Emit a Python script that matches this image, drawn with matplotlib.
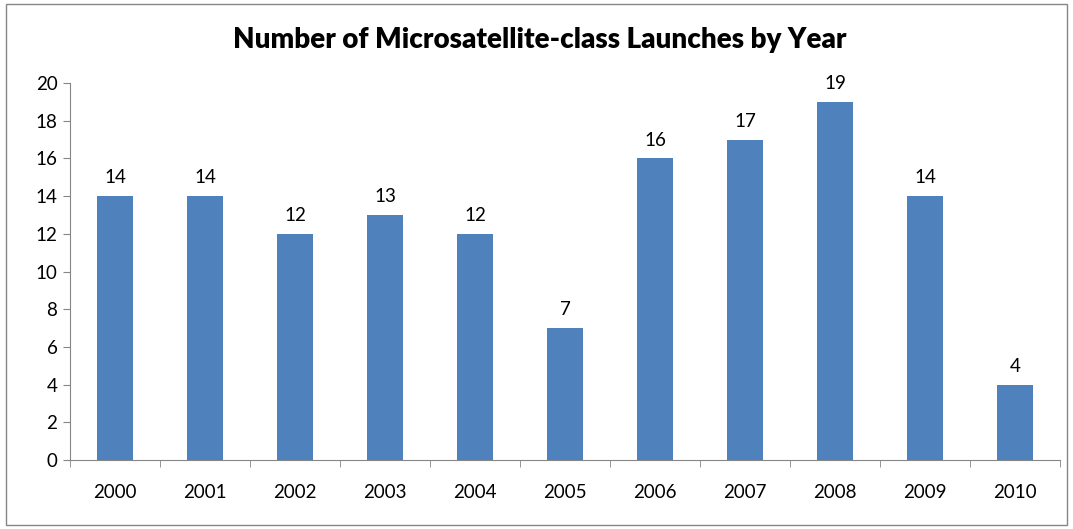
import matplotlib
matplotlib.use("Agg")
from matplotlib import pyplot as plt
from matplotlib.patches import Rectangle
import numpy as np

years = ["2000", "2001", "2002", "2003", "2004", "2005",
         "2006", "2007", "2008", "2009", "2010"]
launches = [14, 14, 12, 13, 12, 7, 16, 17, 19, 14, 4]

plt.rcParams['font.family'] = ['Lato', 'DejaVu Sans']

fig = plt.figure(figsize=(10.73, 5.29), dpi=100)
ax = fig.add_axes([0.0652, 0.1304, 0.9227, 0.7127])

x = np.arange(len(years))
bars = ax.bar(x, launches, width=0.4, color="#4F81BD", zorder=2)

for xi, v in zip(x, launches):
    ax.annotate(str(v), (xi, v), xytext=(0, 7), textcoords="offset points",
                ha="center", va="bottom", fontsize=13.5)

ax.set_xlim(-0.5, len(years) - 0.5)
ax.set_ylim(0, 20)
ax.set_yticks(range(0, 21, 2))
ax.set_xticks(x)
ax.set_xticklabels(years)
ax.set_xticks(np.arange(-0.5, len(years)), minor=True)

for side in ("top", "right"):
    ax.spines[side].set_visible(False)
for side in ("left", "bottom"):
    ax.spines[side].set_color("#868686")

ax.tick_params(axis="y", length=5, color="#868686", labelsize=13.5, pad=4)
ax.tick_params(axis="x", which="major", length=0, labelsize=13.5, pad=17)
ax.tick_params(axis="x", which="minor", length=5, color="#868686")

fig.text(0.503, 0.925, "Number of Microsatellite-class Launches by Year",
         ha="center", va="center", fontsize=20, fontweight="heavy")

fig.patches.append(Rectangle((0.006, 0.008), 0.988, 0.984, transform=fig.transFigure,
                             fill=False, edgecolor="#868686", linewidth=1))

plt.savefig("out.png")
plt.close()
